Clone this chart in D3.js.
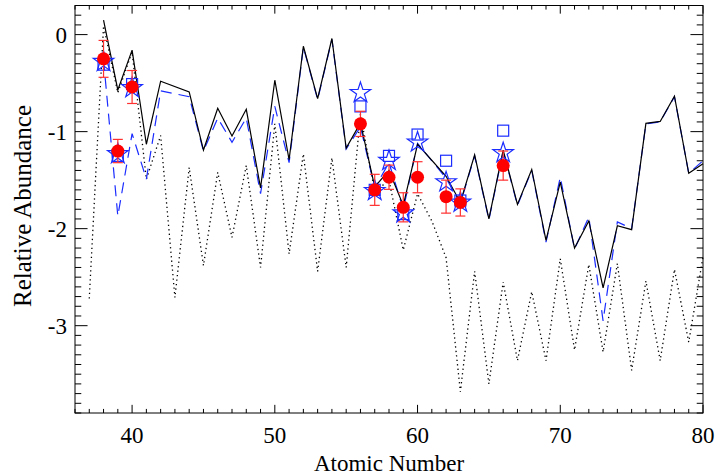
<!DOCTYPE html>
<html>
<head>
<meta charset="utf-8">
<script src="https://cdn.jsdelivr.net/npm/d3@7"></script>
<style>
  body { margin: 0; background: #fff; }
  svg text { font-family: "Liberation Serif", "DejaVu Serif", serif; fill: #000; }
</style>
</head>
<body>
<svg id="chart" width="716" height="476"></svg>
<script>
// model curves: atomic number -> log relative abundance
var modelZ = [38,39,40,41,42,44,45,46,47,48,49,50,51,52,53,54,55,56,57,58,59,60,62,63,64,65,66,67,68,69,70,71,72,73,74,75,76,77,78,79,80];
var solidVals = [0.15,-0.57,-0.16,-1.13,-0.48,-0.59,-1.19,-0.76,-1.045,-0.77,-1.58,-0.47,-1.29,-0.12,-0.66,-0.04,-1.17,-0.91,-1.57,-1.40,-1.76,-1.13,-1.46,-1.73,-1.24,-1.90,-1.19,-1.75,-1.39,-2.12,-1.52,-2.20,-1.92,-2.61,-1.97,-2.01,-0.915,-0.895,-0.635,-1.43,-1.33];
var dashedVals = [-0.26,-1.87,-1.02,-1.49,-0.58,-0.64,-1.20,-0.86,-1.11,-0.86,-1.64,-0.74,-1.32,-0.13,-0.67,-0.05,-1.18,-0.95,-1.58,-1.32,-1.80,-1.12,-1.48,-1.74,-1.25,-1.91,-1.20,-1.76,-1.40,-2.14,-1.47,-2.21,-1.88,-2.95,-1.93,-2.00,-0.92,-0.90,-0.64,-1.43,-1.30];

var dottedZ = [37,38,39,40,41,42,43,44,45,46,47,48,49,50,51,52,53,54,55,56,57,58,59,60,61,62,63,64,65,66,67,68,69,70,71,72,73,74,75,76,77,78,79,80];
var dottedVals = [-2.72,0.09,-0.60,-0.18,-1.49,-1.04,-2.71,-1.37,-2.38,-1.42,-2.09,-1.35,-2.40,-0.92,-2.26,-1.23,-2.44,-1.27,-2.40,-0.82,-1.62,-1.50,-2.22,-1.64,-1.92,-2.30,-3.68,-2.44,-3.60,-2.55,-3.36,-2.65,-3.36,-2.31,-3.25,-2.37,-3.27,-2.36,-3.46,-2.54,-3.36,-2.42,-3.17,-2.29];

// observed points and the two comparison sets
var obsZ = [38,39,40,56,57,58,59,60,62,63,66];
var obsVals = [-0.25,-1.20,-0.54,-0.92,-1.60,-1.47,-1.78,-1.47,-1.67,-1.73,-1.35];
var obsErr = [0.19,0.12,0.17,0.13,0.16,0.125,0.15,0.16,0.17,0.14,0.15];
var squareVals = [-0.31,-1.25,-0.51,-0.74,-1.60,-1.25,-1.85,-1.03,-1.30,-1.71,-0.99];
var starVals = [-0.28,-1.23,-0.55,-0.60,-1.61,-1.30,-1.84,-1.11,-1.52,-1.73,-1.22];

var xTicks = [40,50,60,70,80];
var yTicks = [0,-1,-2,-3];

var svg = d3.select("#chart"),
    margin = {top: 5.5, right: 13, bottom: 63, left: 75},
    width = 716 - margin.left - margin.right,
    height = 476 - margin.top - margin.bottom;

var x = d3.scaleLinear().domain([36, 80]).range([0, width]),
    y = d3.scaleLinear().domain([-3.9, 0.3]).range([height, 0]);

var g = svg.append("g")
    .attr("transform", "translate(" + margin.left + "," + margin.top + ")");

// IDL style tick lengths, minor ticks half
var xTickLen = 0.02 * height, yTickLen = 0.02 * width;
var xMinor = d3.range(36, 81, 1).filter(function(d) { return d % 10 != 0; });
var yMinor = d3.range(-39, 4, 1).map(function(d) { return d / 10; }).filter(function(d) { return Math.abs(d - Math.round(d)) > 1e-6; });

// bottom / top ticks
[[0, 1], [height, -1]].forEach(function(p) {
  var gg = g.append("g");
  gg.selectAll("line.maj").data(xTicks).enter().append("line")
    .attr("x1", function(d) { return x(d); }).attr("x2", function(d) { return x(d); })
    .attr("y1", p[0]).attr("y2", p[0] + p[1] * xTickLen)
    .attr("stroke", "#000").attr("stroke-width", 1);
  gg.selectAll("line.min").data(xMinor).enter().append("line")
    .attr("x1", function(d) { return x(d); }).attr("x2", function(d) { return x(d); })
    .attr("y1", p[0]).attr("y2", p[0] + p[1] * xTickLen / 2)
    .attr("stroke", "#000").attr("stroke-width", 1);
});
// left / right ticks
[[0, 1], [width, -1]].forEach(function(p) {
  var gg = g.append("g");
  gg.selectAll("line.maj").data(yTicks).enter().append("line")
    .attr("y1", function(d) { return y(d); }).attr("y2", function(d) { return y(d); })
    .attr("x1", p[0]).attr("x2", p[0] + p[1] * yTickLen)
    .attr("stroke", "#000").attr("stroke-width", 1);
  gg.selectAll("line.min").data(yMinor).enter().append("line")
    .attr("y1", function(d) { return y(d); }).attr("y2", function(d) { return y(d); })
    .attr("x1", p[0]).attr("x2", p[0] + p[1] * yTickLen / 2)
    .attr("stroke", "#000").attr("stroke-width", 1);
});

g.append("rect")
    .attr("width", width).attr("height", height)
    .attr("fill", "none").attr("stroke", "#000").attr("stroke-width", 1);

// tick labels
g.selectAll("text.xl").data(xTicks).enter().append("text")
    .attr("x", function(d) { return x(d); })
    .attr("y", height + 30)
    .attr("text-anchor", "middle")
    .attr("font-size", 23)
    .text(function(d) { return d; });
g.selectAll("text.yl").data(yTicks).enter().append("text")
    .attr("x", -8)
    .attr("y", function(d) { return y(d) + 8; })
    .attr("text-anchor", "end")
    .attr("font-size", 23)
    .text(function(d) { return d; });

svg.append("text")
    .attr("x", margin.left + x(58))
    .attr("y", 471)
    .attr("text-anchor", "middle")
    .attr("font-size", 23)
    .text("Atomic Number");
svg.append("text")
    .attr("transform", "translate(31,206) rotate(-90)")
    .attr("text-anchor", "middle")
    .attr("font-size", 25)
    .text("Relative Abundance");

var plot = g.append("g");
var line = d3.line()
    .x(function(d) { return x(d[0]); })
    .y(function(d) { return y(d[1]); });

plot.append("path")
    .datum(d3.zip(dottedZ, dottedVals))
    .attr("d", line)
    .attr("fill", "none").attr("stroke", "#000")
    .attr("stroke-width", 1.3).attr("stroke-dasharray", "1.3,3.2");

plot.append("path")
    .datum(d3.zip(modelZ, dashedVals))
    .attr("d", line)
    .attr("fill", "none").attr("stroke", "#1a2cff")
    .attr("stroke-width", 1.2).attr("stroke-dasharray", "11,7");

plot.append("path")
    .datum(d3.zip(modelZ, solidVals))
    .attr("d", line)
    .attr("fill", "none").attr("stroke", "#000")
    .attr("stroke-width", 1.2);

// open squares
plot.selectAll("rect.sq").data(d3.zip(obsZ, squareVals)).enter().append("rect")
    .attr("x", function(d) { return x(d[0]) - 5.5; })
    .attr("y", function(d) { return y(d[1]) - 5.5; })
    .attr("width", 11).attr("height", 11)
    .attr("fill", "none").attr("stroke", "#1a2cff").attr("stroke-width", 1.2);

// open stars
var star = d3.symbol().type(d3.symbolStar).size(130);
plot.selectAll("path.st").data(d3.zip(obsZ, starVals)).enter().append("path")
    .attr("d", star)
    .attr("transform", function(d) { return "translate(" + x(d[0]) + "," + y(d[1]) + ")"; })
    .attr("fill", "none").attr("stroke", "#1a2cff").attr("stroke-width", 1.2);

// error bars and filled circles
var obs = obsZ.map(function(z, i) { return {z: z, v: obsVals[i], e: obsErr[i]}; });
var eb = plot.selectAll("g.eb").data(obs).enter().append("g")
    .attr("stroke", "#ff3030").attr("stroke-width", 1.2);
eb.append("line")
    .attr("x1", function(d) { return x(d.z); }).attr("x2", function(d) { return x(d.z); })
    .attr("y1", function(d) { return y(d.v + d.e); }).attr("y2", function(d) { return y(d.v - d.e); });
eb.append("line")
    .attr("x1", function(d) { return x(d.z) - 5; }).attr("x2", function(d) { return x(d.z) + 5; })
    .attr("y1", function(d) { return y(d.v + d.e); }).attr("y2", function(d) { return y(d.v + d.e); });
eb.append("line")
    .attr("x1", function(d) { return x(d.z) - 5; }).attr("x2", function(d) { return x(d.z) + 5; })
    .attr("y1", function(d) { return y(d.v - d.e); }).attr("y2", function(d) { return y(d.v - d.e); });

plot.selectAll("circle.obs").data(obs).enter().append("circle")
    .attr("cx", function(d) { return x(d.z); })
    .attr("cy", function(d) { return y(d.v); })
    .attr("r", 6.5)
    .attr("fill", "#ff0000");
</script>
</body>
</html>
